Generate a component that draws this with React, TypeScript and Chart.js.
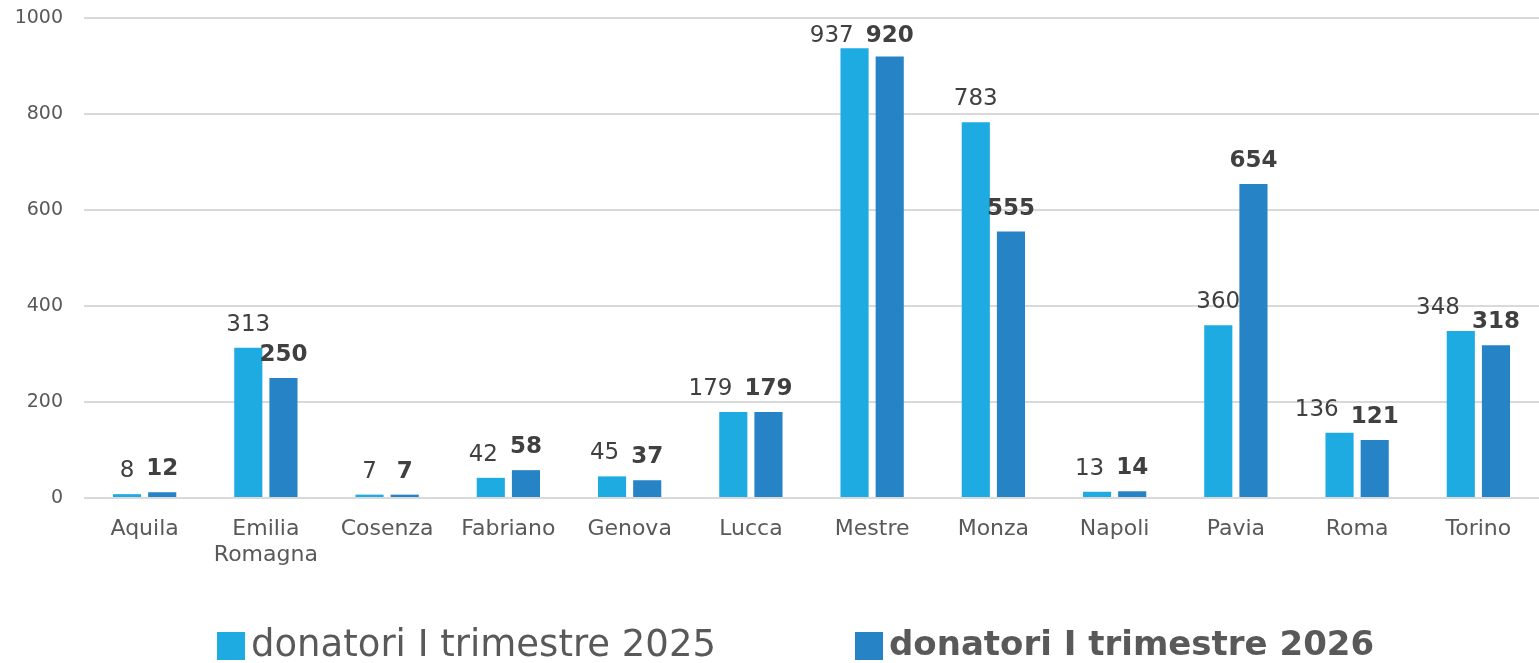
import React, { useEffect, useRef } from "react";
import { Chart, registerables } from "chart.js";

Chart.register(...registerables);

const categories: (string | string[])[] = [
  "Aquila", ["Emilia", "Romagna"], "Cosenza", "Fabriano", "Genova", "Lucca",
  "Mestre", "Monza", "Napoli", "Pavia", "Roma", "Torino",
];
const donatori2025 = [8, 313, 7, 42, 45, 179, 937, 783, 13, 360, 136, 348];
const donatori2026 = [12, 250, 7, 58, 37, 179, 920, 555, 14, 654, 121, 318];
const seriesNames = ["donatori I trimestre 2025", "donatori I trimestre 2026"];
const yTicks = [0, 200, 400, 600, 800, 1000];

const LIGHT = "#1DABE2";
const DARK = "#2683C6";
const FONT = "'DejaVu Sans', sans-serif";

const labelPlugin = {
  id: "valueLabels",
  afterDatasetsDraw(chart: any) {
    const ctx = chart.ctx;
    const m0 = chart.getDatasetMeta(0);
    const m1 = chart.getDatasetMeta(1);
    ctx.save();
    ctx.textBaseline = "alphabetic";
    ctx.textAlign = "center";
    for (let i = 0; i < m0.data.length; i++) {
      const b0 = m0.data[i];
      const b1 = m1.data[i];
      const t0 = String(chart.data.datasets[0].data[i]);
      const t1 = String(chart.data.datasets[1].data[i]);
      ctx.font = `bold 23px ${FONT}`;
      const w1 = ctx.measureText(t1).width;
      const left1 = b1.x - w1 / 2;
      ctx.font = `23px ${FONT}`;
      const w0 = ctx.measureText(t0).width;
      let x0 = b0.x;
      const y0 = Math.max(b0.y - 17, 42);
      const y1 = Math.max(b1.y - 17, 42);
      if (Math.abs(y0 - y1) < 24 && x0 + w0 / 2 > left1 - 6) {
        x0 = left1 - 12 - w0 / 2;
      }
      ctx.fillStyle = "#404040";
      ctx.font = `23px ${FONT}`;
      ctx.fillText(t0, x0, y0);
      ctx.font = `bold 23px ${FONT}`;
      ctx.fillText(t1, b1.x, y1);
    }
    ctx.restore();
  },
};

const legendPlugin = {
  id: "customLegend",
  afterDraw(chart: any) {
    const ctx = chart.ctx;
    ctx.save();
    ctx.textBaseline = "middle";
    ctx.textAlign = "left";
    const y = 646;
    const box = 28;
    const items = [
      { x: 217, color: LIGHT, text: seriesNames[0], font: `37px ${FONT}` },
      { x: 855, color: DARK, text: seriesNames[1], font: `bold 34px ${FONT}` },
    ];
    for (const it of items) {
      ctx.fillStyle = it.color;
      ctx.fillRect(it.x, y - box / 2, box, box);
      ctx.font = it.font;
      ctx.fillStyle = "#595959";
      ctx.fillText(it.text, it.x + box + 6, y);
    }
    ctx.restore();
  },
};

export default function App() {
  const ref = useRef<HTMLCanvasElement>(null);
  useEffect(() => {
    if (!ref.current) return;
    const chart = new Chart(ref.current, {
      type: "bar",
      data: {
        labels: categories,
        datasets: [
          {
            label: seriesNames[0],
            data: donatori2025,
            backgroundColor: LIGHT,
            categoryPercentage: 0.58,
            barPercentage: 0.8,
          },
          {
            label: seriesNames[1],
            data: donatori2026,
            backgroundColor: DARK,
            categoryPercentage: 0.58,
            barPercentage: 0.8,
          },
        ],
      },
      options: {
        animation: false,
        responsive: false,
        maintainAspectRatio: false,
        layout: { padding: { top: 18, right: 0, left: 0, bottom: 0 } },
        plugins: { legend: { display: false }, tooltip: { enabled: false } },
        scales: {
          x: {
            grid: { display: false, drawTicks: false },
            border: { display: false },
            ticks: {
              color: "#595959",
              font: { family: FONT, size: 22 },
              padding: 18,
              maxRotation: 0,
              autoSkip: false,
            },
            afterFit(scale: any) {
              scale.height = 165;
              scale.paddingLeft = 0;
              scale.paddingRight = 0;
              scale.paddingTop = 0;
              scale.paddingBottom = 0;
            },
          },
          y: {
            min: 0,
            max: 1000,
            afterBuildTicks(scale: any) {
              scale.ticks = yTicks.map((v) => ({ value: v }));
            },
            grid: { color: "#D9D9D9", lineWidth: 2, drawTicks: false },
            border: { display: false },
            ticks: {
              color: "#595959",
              font: { family: FONT, size: 19 },
              padding: 21,
              callback: (v: any) => String(v),
            },
            afterFit(scale: any) {
              scale.width = 84;
              scale.paddingTop = 0;
              scale.paddingBottom = 0;
            },
          },
        },
      },
      plugins: [labelPlugin, legendPlugin],
    });
    return () => chart.destroy();
  }, []);
  return (
    <div style={{ position: "fixed", left: 0, top: 0, width: 1539, height: 663, background: "#fff" }}>
      <canvas ref={ref} width={1539} height={663} style={{ width: 1539, height: 663 }} />
    </div>
  );
}
